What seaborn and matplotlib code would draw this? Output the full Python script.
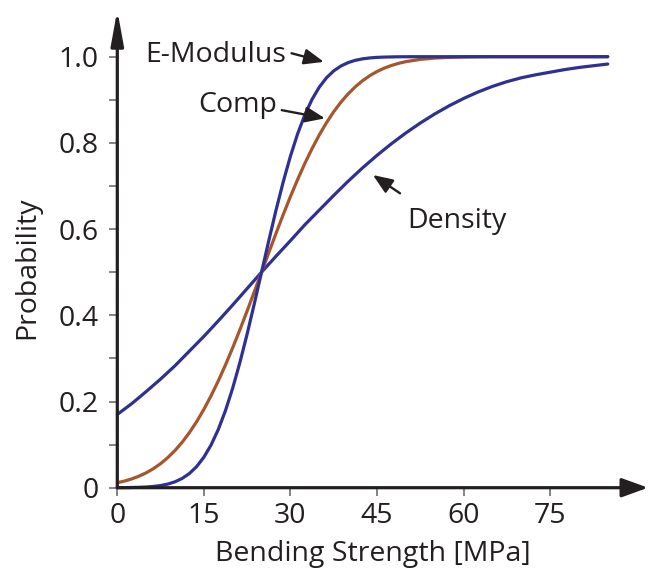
import numpy as np
import pandas as pd
import matplotlib
matplotlib.use("Agg")
import matplotlib.pyplot as plt
import seaborn as sns

# Bending strength grids (MPa): fine steps where the steep curves bend
strength_fine = [0, 1.25, 2.5, 3.75, 5, 6.25, 7.5, 8.75, 10, 11.25, 12.5, 13.75,
                 15, 16.25, 17.5, 18.75, 20, 21.25, 22.5, 23.75, 25, 26.25,
                 27.5, 28.75, 30, 31.25, 32.5, 33.75, 35, 36.25, 37.5, 38.75,
                 40, 41.25, 42.5, 43.75, 45, 46.25, 47.5, 48.75, 50, 52.5, 55,
                 57.5, 60, 62.5, 65, 67.5, 70, 72.5, 75, 77.5, 80, 82.5, 85]
strength_coarse = [0, 2.5, 5, 7.5, 10, 12.5, 15, 17.5, 20, 22.5, 25, 27.5, 30,
                   32.5, 35, 37.5, 40, 42.5, 45, 47.5, 50, 52.5, 55, 57.5, 60,
                   62.5, 65, 67.5, 70, 72.5, 75, 77.5, 80, 82.5, 85]

# Cumulative probability for each predictor
e_modulus = [0.0001, 0.0002, 0.0005, 0.0009, 0.0016, 0.0029, 0.0050, 0.0084,
             0.0137, 0.0216, 0.0330, 0.0490, 0.0707, 0.0991, 0.1350, 0.1790,
             0.2311, 0.2907, 0.3565, 0.4271, 0.5000, 0.5729, 0.6435, 0.7093,
             0.7689, 0.8210, 0.8650, 0.9009, 0.9293, 0.9510, 0.9670, 0.9784,
             0.9863, 0.9916, 0.9950, 0.9971, 0.9984, 0.9991, 0.9995, 0.9998,
             0.9999, 1.0, 1.0, 1.0, 1.0, 1.0, 1.0, 1.0, 1.0, 1.0, 1.0, 1.0,
             1.0, 1.0, 1.0]

comp = [0.0115, 0.0154, 0.0204, 0.0267, 0.0345, 0.0441, 0.0558, 0.0698,
        0.0863, 0.1056, 0.1279, 0.1532, 0.1817, 0.2133, 0.2477, 0.2850,
        0.3247, 0.3666, 0.4101, 0.4548, 0.5000, 0.5452, 0.5899, 0.6334,
        0.6753, 0.7150, 0.7523, 0.7867, 0.8183, 0.8468, 0.8721, 0.8944,
        0.9137, 0.9302, 0.9442, 0.9559, 0.9655, 0.9734, 0.9796, 0.9846,
        0.9885, 0.9938, 0.9968, 0.9984, 0.9993, 0.9997, 1.0, 1.0, 1.0, 1.0,
        1.0, 1.0, 1.0, 1.0, 1.0]

density = [0.170, 0.195, 0.223, 0.252, 0.283, 0.317, 0.351, 0.387, 0.424,
           0.462, 0.500, 0.537, 0.573, 0.610, 0.644, 0.678, 0.711, 0.742,
           0.771, 0.798, 0.823, 0.846, 0.867, 0.886, 0.903, 0.918, 0.931,
           0.942, 0.951, 0.958, 0.964, 0.970, 0.975, 0.979, 0.983]

y_ticks = [0, 0.1, 0.2, 0.3, 0.4, 0.5, 0.6, 0.7, 0.8, 0.9, 1.0]
y_tick_labels = ["0", "", "0.2", "", "0.4", "", "0.6", "", "0.8", "", "1.0"]
x_ticks = [0, 15, 30, 45, 60, 75]
x_tick_labels = ["0", "15", "30", "45", "60", "75"]

df = pd.concat([
    pd.DataFrame({"strength": strength_fine, "probability": e_modulus,
                  "series": "E-Modulus"}),
    pd.DataFrame({"strength": strength_fine, "probability": comp,
                  "series": "Comp"}),
    pd.DataFrame({"strength": strength_coarse, "probability": density,
                  "series": "Density"}),
], ignore_index=True)

sns.set_theme(style="white")
plt.rcParams["font.family"] = ["Open Sans", "DejaVu Sans"]

TEXT = "#231f20"
BLUE = "#2e3192"
BROWN = "#a6562b"
FS = 20.5

W, H = 649, 581
fig = plt.figure(figsize=(W / 100, H / 100), dpi=100)
x0, x1, y0, y1 = 117.3, 648.0, 487.7, 10.0
ax = fig.add_axes([x0 / W, (H - y0) / H, (x1 - x0) / W, (y0 - y1) / H])

sns.lineplot(data=df, x="strength", y="probability", hue="series",
             palette={"E-Modulus": BLUE, "Comp": BROWN, "Density": BLUE},
             hue_order=["Density", "Comp", "E-Modulus"],
             linewidth=2.3, legend=False, ax=ax, clip_on=False)

ax.set_xlim(0, (x1 - x0) / 5.77)
ax.set_ylim(0, (y0 - y1) / 431.0)

for s in ax.spines.values():
    s.set_visible(False)

# axes drawn as arrows
ax.annotate("", xy=(1, 0), xytext=(0, 0), xycoords="axes fraction",
            arrowprops=dict(arrowstyle="-|>,head_length=16,head_width=5.8",
                            mutation_scale=1, lw=2.3, color=TEXT,
                            shrinkA=0, shrinkB=0))
ax.annotate("", xy=(0, 1), xytext=(0, 0), xycoords="axes fraction",
            arrowprops=dict(arrowstyle="-|>,head_length=21,head_width=3.8",
                            mutation_scale=1, lw=2.3, color=TEXT,
                            shrinkA=0, shrinkB=0))

ax.set_xticks(x_ticks)
ax.set_xticklabels(x_tick_labels)
ax.set_yticks(y_ticks)
ax.set_yticklabels(y_tick_labels)
ax.tick_params(axis="both", direction="out", length=5.5, width=1.2,
               color="#6d6e71", labelsize=FS, labelcolor=TEXT)
ax.tick_params(axis="x", pad=5, bottom=True)
ax.tick_params(axis="y", pad=8, left=True)

ax.set_xlabel("Bending Strength [MPa]", fontsize=FS, color=TEXT)
ax.set_ylabel("Probability", fontsize=FS, color=TEXT)
ax.xaxis.set_label_coords(0.482, -0.110)
ax.yaxis.set_label_coords(-0.143, 0.46)

# curve labels with pointer arrows
label_kw = dict(fontsize=FS, color=TEXT, ha="left", va="baseline")
ax.text(4.8, 0.988, "E-Modulus", **label_kw)
ax.text(14.0, 0.872, "Comp", **label_kw)
ax.text(50.2, 0.602, "Density", **label_kw)

ptr = dict(arrowstyle="-|>,head_length=0.8,head_width=0.32", mutation_scale=15,
           lw=1.7, color=TEXT, shrinkA=0, shrinkB=0)
ax.annotate("", xy=(35.8, 0.988), xytext=(30.2, 1.008), arrowprops=ptr)
ax.annotate("", xy=(36.0, 0.857), xytext=(28.5, 0.876), arrowprops=ptr)
ax.annotate("", xy=(44.3, 0.7255), xytext=(49.0, 0.683), arrowprops=ptr)

fig.savefig("out.png", dpi=100, facecolor="white")
